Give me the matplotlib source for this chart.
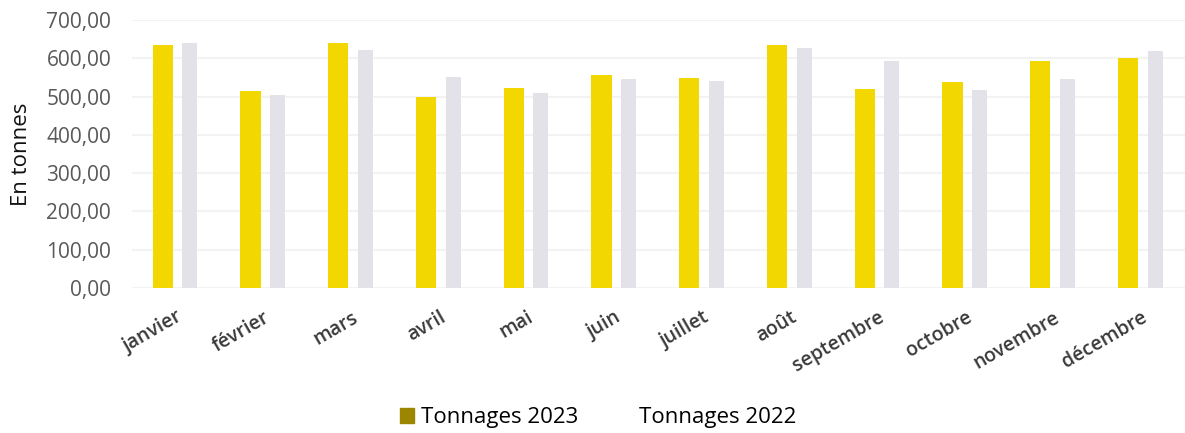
import numpy as np
import matplotlib
matplotlib.use('Agg')
import matplotlib.pyplot as plt
from matplotlib.patches import Patch

# valeurs (en tonnes)
mois = ['janvier', 'février', 'mars', 'avril', 'mai', 'juin', 'juillet', 'août',
        'septembre', 'octobre', 'novembre', 'décembre']
tonnages_2023 = [635, 515, 640, 500, 522, 556, 548, 636, 521, 538, 592, 600]
tonnages_2022 = [640, 505, 622, 551, 510, 545, 540, 627, 593, 517, 545, 620]
y_ticks = [0, 100, 200, 300, 400, 500, 600, 700]

plt.rcParams['font.family'] = ['Open Sans', 'DejaVu Sans']

fig = plt.figure(figsize = (11.85, 4.33), dpi = 100)
ax = fig.add_axes([132/1185, 1 - 288/433, 1 - 132/1185, 268/433])

x = np.arange(len(mois))
ax.bar(x - 0.15, tonnages_2023, width = 0.23, color = '#F2D700', zorder = 3)
ax.bar(x + 0.16, tonnages_2022, width = 0.17, color = '#E2E2E8', zorder = 2)

ax.set_xlim(-0.5, len(mois) - 0.5)
ax.set_ylim(0, 700)
ax.set_yticks(y_ticks)
ax.set_yticklabels(['{:.2f}'.format(v).replace('.', ',') for v in y_ticks],
    fontsize = 15, color = '#595959')
ax.set_xticks(x)
ax.set_xticklabels(mois, rotation = 30, ha = 'right', va = 'top', rotation_mode = 'anchor',
    fontsize = 14, fontweight = 'semibold', color = '#3a3a3a')
ax.tick_params(axis = 'both', length = 0)
ax.tick_params(axis = 'y', pad = 15)
ax.tick_params(axis = 'x', pad = 14)
ax.set_ylabel('En tonnes', fontsize = 16, color = '#111111', labelpad = 10)

ax.grid(axis = 'y', color = '#f3f3f3', linewidth = 1.5, zorder = 0)
for s in ax.spines.values():
    s.set_visible(False)

handles = [Patch(color = '#9C8600', label = 'Tonnages 2023'),
           Patch(color = 'white', label = 'Tonnages 2022')]
fig.legend(handles = handles, loc = 'center', bbox_to_anchor = (0.505, 0.035), ncol = 2,
    frameon = False, fontsize = 16, handlelength = 0.65, handleheight = 0.65,
    handletextpad = 0.3, columnspacing = 1.8)

fig.savefig('out.png', dpi = 100)
